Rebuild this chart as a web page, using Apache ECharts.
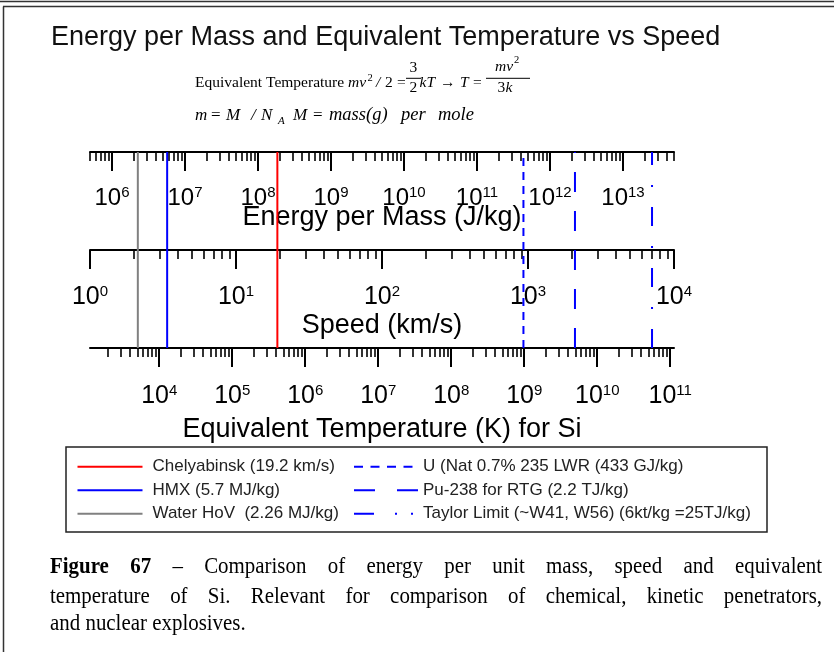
<!DOCTYPE html>
<html><head><meta charset="utf-8">
<script src="https://cdn.jsdelivr.net/npm/echarts@6/dist/echarts.min.js"></script>
<style>html,body{margin:0;padding:0;background:#fff}#c{width:834px;height:652px}</style>
</head><body><div id="c"></div>
<script>
// ---------------- data ----------------
const speedRange = [1, 10000];              // km/s
const energyRange = [5e5, 5e13];            // J/kg  (= v^2/2)
const tempRange = [1126, 1.126e11];         // K for Si (= m v^2 / 3k)
const speedMajor = [1, 10, 100, 1000, 10000];
const energyMajor = [1e6, 1e7, 1e8, 1e9, 1e10, 1e11, 1e12, 1e13];
const tempMajor = [1e4, 1e5, 1e6, 1e7, 1e8, 1e9, 1e10, 1e11];
const minorMultipliers = [2, 3, 4, 5, 6, 7, 8, 9];
const speedExps = [0, 1, 2, 3];
const energyExps = [5, 6, 7, 8, 9, 10, 11, 12, 13];
const tempExps = [3, 4, 5, 6, 7, 8, 9, 10, 11];

const markerNames = [
  'Chelyabinsk (19.2 km/s)',
  'HMX (5.7 MJ/kg)',
  'Water HoV  (2.26 MJ/kg)',
  'U (Nat 0.7% 235 LWR (433 GJ/kg)',
  'Pu-238 for RTG (2.2 TJ/kg)',
  'Taylor Limit (~W41, W56) (6kt/kg =25TJ/kg)'
];
const markerScale = ['speed', 'energy', 'energy', 'energy', 'energy', 'energy'];
const markerValues = [19.2, 5.7e6, 2.26e6, 433e9, 2.2e12, 25e12];

const titleText = 'Energy per Mass and Equivalent Temperature vs Speed';
const axisNames = { energy: 'Energy per Mass (J/kg)', speed: 'Speed (km/s)', temp: 'Equivalent Temperature (K) for Si' };
const captionLines = [
  ['Figure', '67', '–', 'Comparison', 'of', 'energy', 'per', 'unit', 'mass,', 'speed', 'and', 'equivalent'],
  ['temperature', 'of', 'Si.', 'Relevant', 'for', 'comparison', 'of', 'chemical,', 'kinetic', 'penetrators,'],
  ['and', 'nuclear', 'explosives.']
];

// ---------------- styles ----------------
const markerStyles = [
  { color: '#ff0000', dash: 'solid' },
  { color: '#0000ff', dash: 'solid' },
  { color: '#808080', dash: 'solid' },
  { color: '#0000ff', dash: [8, 6], legendDash: [9, 7.5] },
  { color: '#0000ff', dash: [20, 19], legendDash: [21, 22] },
  { color: '#0000ff', dash: [19, 20, 2, 20], legendDash: [20, 21, 2, 14, 2, 30] }
];
const SANS = '"Liberation Sans", Arial, sans-serif';
const SERIF = '"Liberation Serif", "Times New Roman", serif';

function minorTicks(range, exps) {
  const out = [];
  exps.forEach(e => minorMultipliers.forEach(m => {
    const v = m * Math.pow(10, e);
    if (v >= range[0] * 0.999 && v <= range[1] * 1.001) out.push(v);
  }));
  return out;
}

function axes(range, major, minor, offset, labelSize, labelMargin, name, nameGap) {
  const base = {
    type: 'log', logBase: 10, min: range[0], max: range[1], gridIndex: 0,
    position: 'bottom', offset: offset,
    splitLine: { show: false }, minorTick: { show: false }, minorSplitLine: { show: false }
  };
  return [
    Object.assign({}, base, {
      axisLine: { show: true, onZero: false, lineStyle: { color: '#000', width: 2 } },
      axisTick: { show: true, customValues: major, length: 19, lineStyle: { color: '#000', width: 2 } },
      axisLabel: {
        show: true, customValues: major, margin: labelMargin,
        fontFamily: SANS, fontSize: labelSize, lineHeight: 26, color: '#000',
        formatter: v => '10{s|' + Math.round(Math.log10(v)) + '}',
        rich: { s: { fontFamily: SANS, fontSize: 15, lineHeight: 10, verticalAlign: 'top', color: '#000' } }
      },
      name: name, nameLocation: 'middle', nameGap: nameGap, nameMoveOverlap: false,
      nameTextStyle: { fontFamily: SANS, fontSize: 27, color: '#000', verticalAlign: 'middle' }
    }),
    Object.assign({}, base, {
      axisLine: { show: false, onZero: false },
      axisTick: { show: true, customValues: minor, length: 9, lineStyle: { color: '#000', width: 1.6 } },
      axisLabel: { show: false }
    })
  ];
}

const xAxes = [].concat(
  axes(energyRange, energyMajor, minorTicks(energyRange, energyExps), -196, 24, 33, axisNames.energy, 66),
  axes(speedRange, speedMajor, minorTicks(speedRange, speedExps), -98, 25, 34, axisNames.speed, 76),
  axes(tempRange, tempMajor, minorTicks(tempRange, tempExps), 0, 25, 35, axisNames.temp, 82)
);
const axisIndexOf = { energy: 0, speed: 2, temp: 4 };

const series = markerNames.map((n, i) => ({
  name: n, type: 'line', xAxisIndex: axisIndexOf[markerScale[i]], yAxisIndex: 0,
  data: [[markerValues[i], 0], [markerValues[i], 1]],
  symbol: 'none', showSymbol: false, silent: true, animation: false, z: 3,
  lineStyle: { color: markerStyles[i].color, width: 2, type: markerStyles[i].dash },
  itemStyle: { color: markerStyles[i].color, opacity: 0 }
}));

// ---------- graphic text helpers ----------
const graphics = [];
function txt(t, x, baseline, size, family, style, weight, fill, sx) {
  graphics.push({
    type: 'text', x: x, y: baseline - 0.34 * size, scaleX: sx || 1, silent: true,
    style: { text: t, fontSize: size, fontFamily: family, fontStyle: style || 'normal',
      fontWeight: weight || 'normal', fill: fill || '#000', align: 'left', verticalAlign: 'middle' }
  });
}
function hline(x1, x2, y, w, c) {
  graphics.push({ type: 'line', silent: true, shape: { x1: x1, y1: y, x2: x2, y2: y }, style: { stroke: c || '#000', lineWidth: w } });
}

// frame
hline(0, 834, 1.5, 1.5, '#333');
hline(3, 834, 6.5, 1.5, '#333');
graphics.push({ type: 'line', silent: true, shape: { x1: 3.5, y1: 6.5, x2: 3.5, y2: 652 }, style: { stroke: '#333', lineWidth: 1.5 } });

// title
txt(titleText, 51, 46.5, 27, SANS, 'normal', 'normal', '#111');

// formula
const F = 15.5;
txt('Equivalent Temperature', 195, 88.5, F, SERIF);
txt('mv', 348, 88.5, F, SERIF, 'italic');
txt('2', 367.5, 81.5, 10.5, SERIF);
txt('/', 376, 88.5, F, SERIF, 'italic');
txt('2', 385, 88.5, F, SERIF);
txt('=', 397, 88.5, F, SERIF);
txt('3', 409.5, 73.3, F, SERIF);
hline(406, 421, 78.3, 1);
txt('2', 409.5, 93.3, F, SERIF);
txt('kT', 419.5, 88.5, F, SERIF, 'italic');
txt('\u2192', 440, 88.5, F, SERIF);
txt('T', 460, 88.5, F, SERIF, 'italic');
txt('=', 473, 88.5, F, SERIF);
hline(486, 530, 78.3, 1);
txt('mv', 495, 71.7, F, SERIF, 'italic');
txt('2', 514, 64, 10.5, SERIF);
txt('3', 497.5, 93.3, F, SERIF);
txt('k', 505.5, 93.3, F, SERIF, 'italic');
const F2 = 17;
txt('m', 195, 121, F2, SERIF, 'italic');
txt('=', 211, 121, F2, SERIF);
txt('M', 226, 121, F2, SERIF, 'italic');
txt('/', 251, 121, F2, SERIF, 'italic');
txt('N', 261, 121, F2, SERIF, 'italic');
txt('A', 278, 124.5, 11, SERIF, 'italic');
txt('M', 293, 121, F2, SERIF, 'italic');
txt('=', 313, 121, F2, SERIF);
txt('mass(g)', 329, 121, 18.5, SERIF, 'italic');
txt('per', 401, 121, 18.5, SERIF, 'italic');
txt('mole', 438, 121, 18.5, SERIF, 'italic');

// legend frame
graphics.push({ type: 'rect', silent: true, shape: { x: 66, y: 447, width: 701, height: 85 },
  style: { fill: 'none', stroke: '#222', lineWidth: 1.5 } });

// caption (justified)
const CS = 23.5, CSX = 0.89;
const ctx = document.createElement('canvas').getContext('2d');
const baselines = [575, 604.5, 632];
captionLines.forEach((words, li) => {
  const bold = w => li === 0 && (w === 'Figure' || w === '67');
  const widths = words.map(w => { ctx.font = (bold(w) ? 'bold ' : '') + CS + 'px ' + SERIF; return ctx.measureText(w).width * CSX; });
  const total = widths.reduce((a, b) => a + b, 0);
  const justify = li < 2;
  ctx.font = CS + 'px ' + SERIF;
  const space = justify ? (772 - total) / (words.length - 1) : ctx.measureText(' ').width * CSX;
  let x = 50;
  words.forEach((w, i) => {
    txt(w, x, baselines[li], CS, SERIF, 'normal', bold(w) ? 'bold' : 'normal', '#000', CSX);
    x += widths[i] + space;
  });
});

const legendText = { fontFamily: SANS, fontSize: 17, color: '#222', lineHeight: 18 };
const legendItems = names => names.map(n => {
  const s = markerStyles[markerNames.indexOf(n)];
  return s.legendDash ? { name: n, lineStyle: { type: s.legendDash } } : { name: n };
});
const option = {
  animation: false,
  backgroundColor: '#fff',
  grid: { left: 90, right: 160, top: 152, height: 196, containLabel: false, outerBoundsMode: 'none', show: false },
  xAxis: xAxes,
  yAxis: { type: 'value', min: 0, max: 1, show: false, gridIndex: 0 },
  legend: [
    { data: legendItems(markerNames.slice(0, 3)), orient: 'vertical', left: 76.5, top: 457.7, padding: 0,
      itemWidth: 65, itemHeight: 18, itemGap: 5.5, selectedMode: false,
      textStyle: Object.assign({ padding: [0, 0, 0, 5] }, legendText) },
    { data: legendItems(markerNames.slice(3)), orient: 'vertical', left: 353, top: 457.7, padding: 0,
      itemWidth: 64, itemHeight: 18, itemGap: 5.5, selectedMode: false,
      textStyle: legendText }
  ],
  series: series,
  graphic: { elements: graphics }
};
const chart = echarts.init(document.getElementById('c'), null, { renderer: 'canvas' });
chart.setOption(option);
</script>
</body></html>
